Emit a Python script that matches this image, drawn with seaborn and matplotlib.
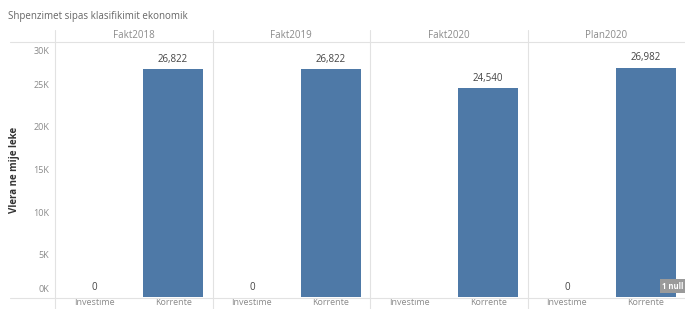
import numpy as np
import pandas as pd
import matplotlib
matplotlib.use("Agg")
import matplotlib.pyplot as plt
import matplotlib.transforms as mtransforms
from matplotlib.lines import Line2D
import seaborn as sns

# Data
years = ['Fakt2018', 'Fakt2019', 'Fakt2020', 'Plan2020']
categories = ['Investime', 'Korrente']
investime = [0, 0, None, 0]
korrente = [26822, 26822, 24540, 26982]
y_ticks = [0, 5000, 10000, 15000, 20000, 25000, 30000]
y_tick_labels = ['0K', '5K', '10K', '15K', '20K', '25K', '30K']

BAR_COLOR = '#4E79A7'
TEXT_GRAY = '#8a8a8a'
LINE_GRAY = '#e2e2e2'

sns.set_theme(style='white')
plt.rcParams['font.family'] = ['Open Sans', 'DejaVu Sans']

W, H = 685, 309
fig = plt.figure(figsize=(W / 100, H / 100), dpi=100)

left, right = 55 / W, 1.0
top, bottom = 1 - 42 / H, 1 - 297 / H
panel_w = (right - left) / len(years)

axes = []
for i, year in enumerate(years):
    ax = fig.add_axes([left + i * panel_w, bottom, panel_w, top - bottom])
    ax.patch.set_alpha(0)
    df = pd.DataFrame({
        'kategoria': categories,
        'vlera': [investime[i] if investime[i] is not None else np.nan, korrente[i]],
    })
    sns.barplot(data=df, x='kategoria', y='vlera', order=categories,
                color=BAR_COLOR, width=0.76, saturation=1, linewidth=0, ax=ax)
    ax.set_ylim(0, 30000)
    ax.set_xlim(-0.5, 1.5)
    ax.set_xlabel('')
    ax.set_ylabel('')
    for s in ax.spines.values():
        s.set_visible(False)
    ax.tick_params(axis='x', length=0, pad=1, labelsize=6.5, labelcolor=TEXT_GRAY)
    if i == 0:
        ax.set_yticks(y_ticks)
        ax.set_yticklabels(y_tick_labels)
        ax.tick_params(axis='y', length=0, pad=4, labelsize=6.5, labelcolor=TEXT_GRAY)
        # Tableau keeps the edge labels inside the axis
        labs = ax.get_yticklabels()
        labs[0].set_transform(labs[0].get_transform() +
                              mtransforms.ScaledTranslation(0, 8 / 100, fig.dpi_scale_trans))
        labs[-1].set_transform(labs[-1].get_transform() +
                               mtransforms.ScaledTranslation(0, -8 / 100, fig.dpi_scale_trans))
        ax.set_ylabel('Vlera ne mije leke', fontsize=7, color='#333333',
                      fontweight='bold', labelpad=10)
    else:
        ax.set_yticks([])

    # value labels
    for j, val in enumerate([investime[i], korrente[i]]):
        if val is None:
            continue
        ax.annotate(f'{val:,}', (j, val), xytext=(0, 3), textcoords='offset points',
                    ha='center', va='bottom', fontsize=7, color='#444444')

    ax.text(0.5, 1.0 + 6 / 255, year, transform=ax.transAxes,
            ha='center', va='center', fontsize=7, color=TEXT_GRAY)
    axes.append(ax)

# "1 null" badge
axes[-1].text(0.99, 0.025, '1 null', transform=axes[-1].transAxes, ha='right',
              va='bottom', fontsize=5.5, color='white', fontweight='bold',
              bbox=dict(boxstyle='square,pad=0.3', fc='#9a9a9a', ec='none'))

# frame lines
def fline(x0, y0, x1, y1):
    fig.add_artist(Line2D([x0 / W, x1 / W], [1 - y0 / H, 1 - y1 / H],
                          color=LINE_GRAY, lw=0.8, zorder=5))

fline(10, 42, W, 42)
fline(10, 297.5, W, 297.5)
for i in range(len(years)):
    x = 55 + i * (W - 55) / len(years)
    fline(x, 30, x, H)

fig.text(8 / W, 1 - 17 / H, 'Shpenzimet sipas klasifikimit ekonomik',
         ha='left', va='center', fontsize=7, color='#666666')

fig.savefig('out.png', dpi=100, facecolor='white')
